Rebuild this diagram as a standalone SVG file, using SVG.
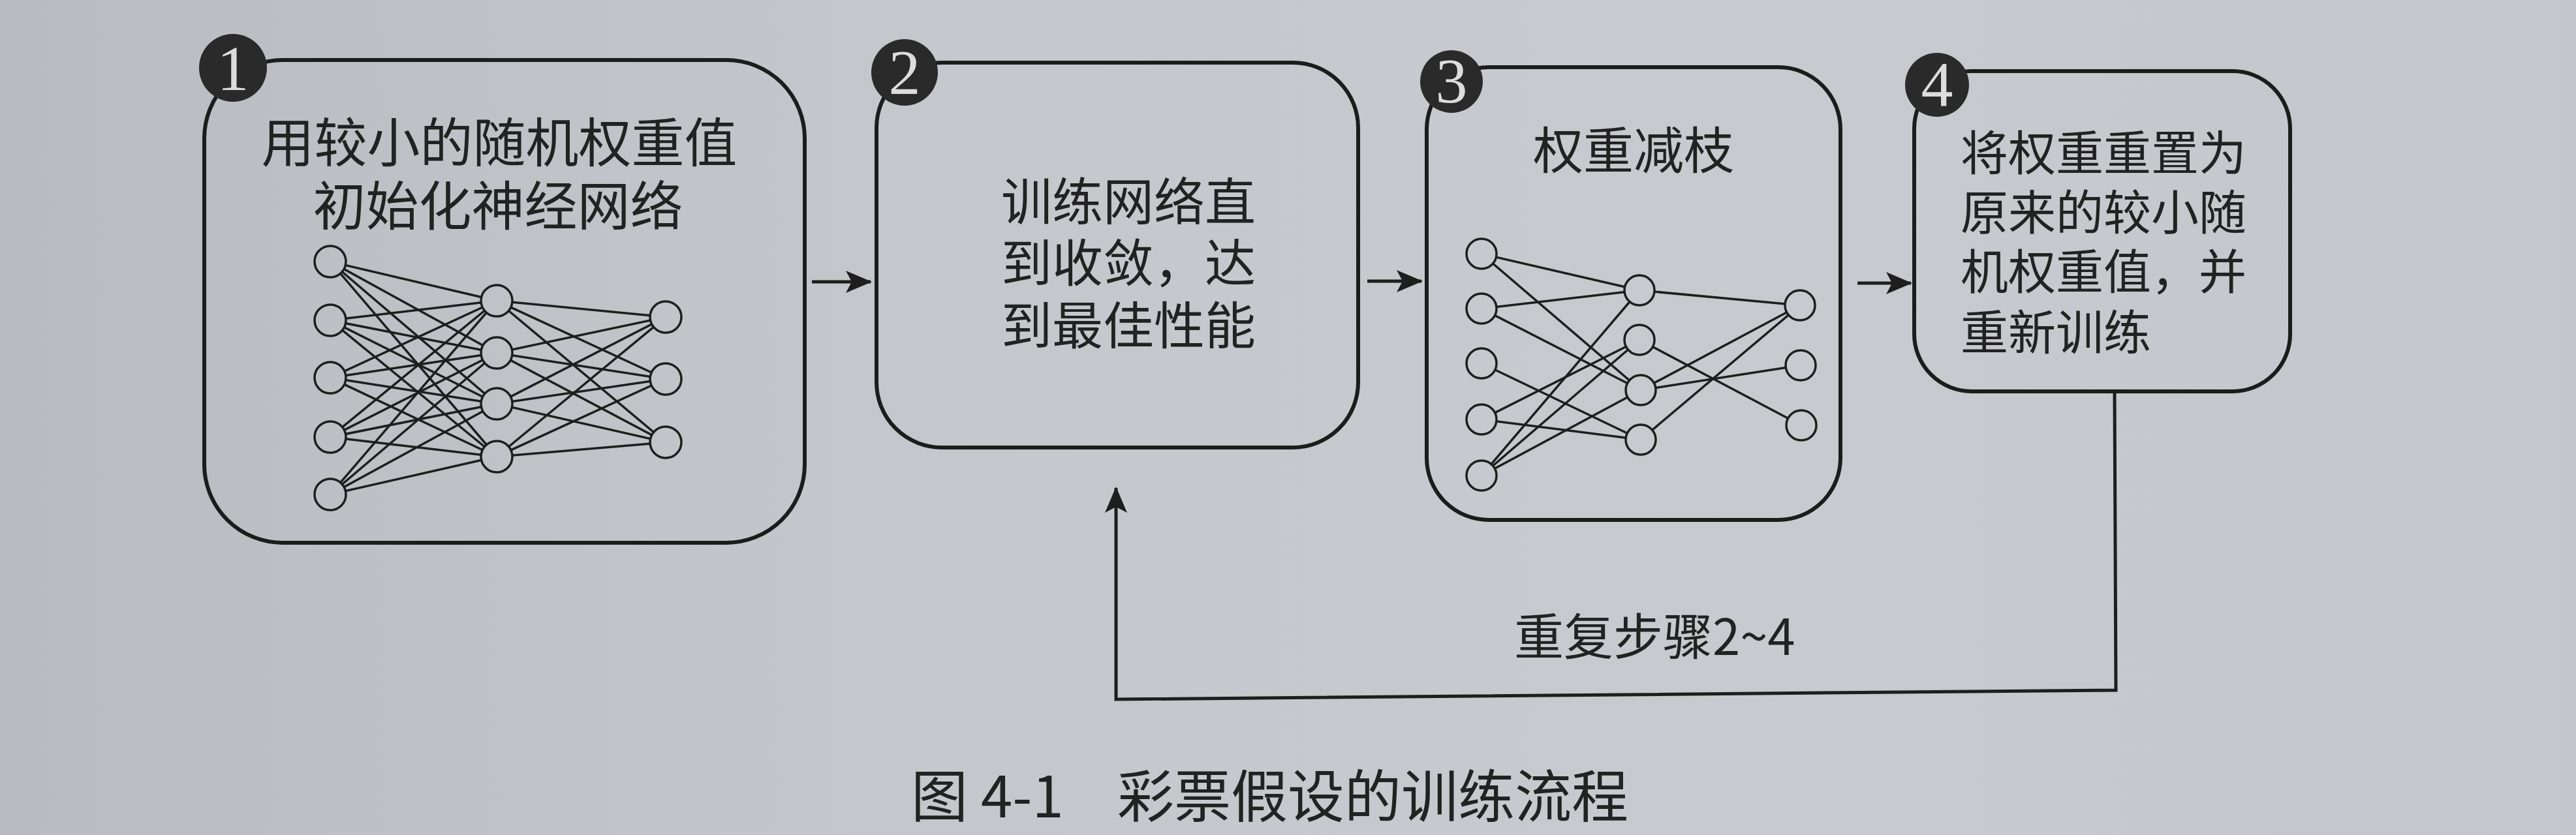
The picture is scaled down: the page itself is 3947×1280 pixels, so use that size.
<svg xmlns="http://www.w3.org/2000/svg" width="3947" height="1280" viewBox="0 0 3947 1280">
<defs>
<linearGradient id="bg" gradientUnits="userSpaceOnUse" x1="0" y1="0" x2="3947" y2="0">
<stop offset="0" stop-color="#babbc1"/>
<stop offset="0.35" stop-color="#c6c7cc"/>
<stop offset="0.7" stop-color="#c9cacf"/>
<stop offset="1" stop-color="#c5c6cb"/>
</linearGradient>
<marker id="arr" viewBox="0 0 40 34" refX="38" refY="17" markerWidth="40" markerHeight="34" markerUnits="userSpaceOnUse" orient="auto">
<path d="M0,0 L40,17 L0,34 L9,17 Z" fill="#1e1e1e"/>
</marker>
<style>
.box{fill:none;stroke:#1c1c1c;stroke-width:6}
.badge{fill:#2a2a2a}
.num{font-family:"Liberation Serif",serif;font-size:98px;fill:#dcdcdc;text-anchor:middle}
.t{font-family:"Noto Sans CJK SC","Noto Sans",sans-serif;fill:#222}
.nn{fill:url(#bg);stroke:#1e1e1e;stroke-width:3.5}
.e{stroke:#1e1e1e;stroke-width:3.5}
.c{fill:none;stroke:#1e1e1e;stroke-width:5}
</style>
</defs>
<rect x="0" y="0" width="3947" height="1280" fill="url(#bg)"/>

<g id="connectors">
<line class="c" x1="1244" y1="432" x2="1334" y2="432" marker-end="url(#arr)"/>
<line class="c" x1="2095" y1="431" x2="2178" y2="431" marker-end="url(#arr)"/>
<line class="c" x1="2846" y1="434" x2="2928" y2="434" marker-end="url(#arr)"/>
<path class="c" d="M3240,600 L3242,1058 L1710,1072 L1710,748" marker-end="url(#arr)"/>
<text class="t" x="2320" y="1004" font-size="76">重复步骤2~4</text>
</g>

<g id="node1">
<rect class="box" x="313" y="92" width="920" height="740" rx="120" ry="120"/>
<text class="t" x="765" y="248" font-size="81" text-anchor="middle">用较小的随机权重值</text>
<text class="t" x="763" y="345" font-size="81" text-anchor="middle">初始化神经网络</text>
<g id="net1">
<g class="e">
<line x1="506" y1="401" x2="761" y2="461"/><line x1="506" y1="401" x2="761" y2="541"/><line x1="506" y1="401" x2="761" y2="619"/><line x1="506" y1="401" x2="761" y2="700"/>
<line x1="506" y1="491" x2="761" y2="461"/><line x1="506" y1="491" x2="761" y2="541"/><line x1="506" y1="491" x2="761" y2="619"/><line x1="506" y1="491" x2="761" y2="700"/>
<line x1="506" y1="579" x2="761" y2="461"/><line x1="506" y1="579" x2="761" y2="541"/><line x1="506" y1="579" x2="761" y2="619"/><line x1="506" y1="579" x2="761" y2="700"/>
<line x1="506" y1="670" x2="761" y2="461"/><line x1="506" y1="670" x2="761" y2="541"/><line x1="506" y1="670" x2="761" y2="619"/><line x1="506" y1="670" x2="761" y2="700"/>
<line x1="506" y1="758" x2="761" y2="461"/><line x1="506" y1="758" x2="761" y2="541"/><line x1="506" y1="758" x2="761" y2="619"/><line x1="506" y1="758" x2="761" y2="700"/>
<line x1="761" y1="461" x2="1020" y2="486"/><line x1="761" y1="461" x2="1020" y2="581"/><line x1="761" y1="461" x2="1020" y2="678"/>
<line x1="761" y1="541" x2="1020" y2="486"/><line x1="761" y1="541" x2="1020" y2="581"/><line x1="761" y1="541" x2="1020" y2="678"/>
<line x1="761" y1="619" x2="1020" y2="486"/><line x1="761" y1="619" x2="1020" y2="581"/><line x1="761" y1="619" x2="1020" y2="678"/>
<line x1="761" y1="700" x2="1020" y2="486"/><line x1="761" y1="700" x2="1020" y2="581"/><line x1="761" y1="700" x2="1020" y2="678"/>
</g>
<circle class="nn" cx="506" cy="401" r="24"/><circle class="nn" cx="506" cy="491" r="24"/><circle class="nn" cx="506" cy="579" r="24"/><circle class="nn" cx="506" cy="670" r="24"/><circle class="nn" cx="506" cy="758" r="24"/>
<circle class="nn" cx="761" cy="461" r="24"/><circle class="nn" cx="761" cy="541" r="24"/><circle class="nn" cx="761" cy="619" r="24"/><circle class="nn" cx="761" cy="700" r="24"/>
<circle class="nn" cx="1020" cy="486" r="24"/><circle class="nn" cx="1020" cy="581" r="24"/><circle class="nn" cx="1020" cy="678" r="24"/>
</g>
<circle class="badge" cx="357" cy="104" r="52"/>
<text class="num" x="357" y="138">1</text>
</g>

<g id="node2">
<rect class="box" x="1343" y="96" width="738" height="590" rx="100" ry="100"/>
<text class="t" x="1729" y="338" font-size="78" text-anchor="middle">训练网络直</text>
<text class="t" x="1729" y="432" font-size="78" text-anchor="middle">到收敛，达</text>
<text class="t" x="1729" y="528" font-size="78" text-anchor="middle">到最佳性能</text>
<circle class="badge" cx="1386" cy="111" r="51"/>
<text class="num" x="1386" y="144">2</text>
</g>

<g id="node3">
<rect class="box" x="2186" y="103" width="634" height="694" rx="95" ry="95"/>
<text class="t" x="2503" y="259" font-size="77" text-anchor="middle">权重减枝</text>
<g id="net3">
<g class="e">
<line x1="2270" y1="389" x2="2512" y2="445"/>
<line x1="2270" y1="389" x2="2514" y2="598"/>
<line x1="2270" y1="473" x2="2512" y2="445"/>
<line x1="2270" y1="473" x2="2514" y2="598"/>
<line x1="2270" y1="557" x2="2514" y2="674"/>
<line x1="2270" y1="643" x2="2512" y2="521"/>
<line x1="2270" y1="643" x2="2514" y2="674"/>
<line x1="2270" y1="729" x2="2512" y2="445"/>
<line x1="2270" y1="729" x2="2512" y2="521"/>
<line x1="2270" y1="729" x2="2514" y2="598"/>
<line x1="2512" y1="445" x2="2758" y2="468"/>
<line x1="2512" y1="521" x2="2760" y2="652"/>
<line x1="2514" y1="598" x2="2758" y2="468"/>
<line x1="2514" y1="598" x2="2759" y2="560"/>
<line x1="2514" y1="674" x2="2758" y2="468"/>
</g>
<circle class="nn" cx="2270" cy="389" r="23"/><circle class="nn" cx="2270" cy="473" r="23"/><circle class="nn" cx="2270" cy="557" r="23"/><circle class="nn" cx="2270" cy="643" r="23"/><circle class="nn" cx="2270" cy="729" r="23"/>
<circle class="nn" cx="2512" cy="445" r="23"/><circle class="nn" cx="2512" cy="521" r="23"/><circle class="nn" cx="2514" cy="598" r="23"/><circle class="nn" cx="2514" cy="674" r="23"/>
<circle class="nn" cx="2758" cy="468" r="23"/><circle class="nn" cx="2759" cy="560" r="23"/><circle class="nn" cx="2760" cy="652" r="23"/>
</g>
<circle class="badge" cx="2224" cy="125" r="48"/>
<text class="num" x="2224" y="157" font-size="92">3</text>
</g>

<g id="node4">
<rect class="box" x="2933" y="109" width="576" height="491" rx="88" ry="88"/>
<text class="t" x="3004" y="261" font-size="73">将权重重置为</text>
<text class="t" x="3004" y="352" font-size="73">原来的较小随</text>
<text class="t" x="3004" y="443" font-size="73">机权重值，并</text>
<text class="t" x="3004" y="536" font-size="73">重新训练</text>
<circle class="badge" cx="2968" cy="130" r="49"/>
<text class="num" x="2968" y="162" font-size="92">4</text>
</g>

<g id="caption">
<text class="t" y="1253" font-size="87"><tspan x="1396">图</tspan><tspan x="1503">4-1</tspan><tspan x="1712">彩票假设的训练流程</tspan></text>
</g>
</svg>
